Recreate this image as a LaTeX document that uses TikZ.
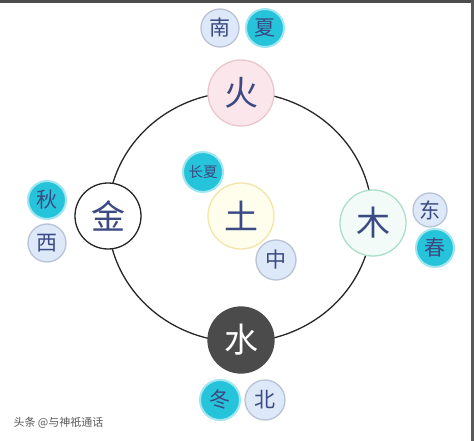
\documentclass[tikz,border=0pt]{standalone}
\usepackage{fontspec}
\newfontfamily\cjk{Noto Sans CJK SC}
\definecolor{ink}{HTML}{3B4A82}
\definecolor{cyanf}{HTML}{26C4DA}
\definecolor{cyang}{HTML}{9FE6F0}
\definecolor{bluef}{HTML}{DDE8F8}
\definecolor{blued}{HTML}{B9C3D6}
\definecolor{firef}{HTML}{FBE7EB}
\definecolor{fired}{HTML}{E9C7CD}
\definecolor{woodf}{HTML}{F2FBF7}
\definecolor{woodd}{HTML}{ABDFC9}
\definecolor{earthf}{HTML}{FFFDEB}
\definecolor{earthd}{HTML}{F2E6A6}
\definecolor{waterf}{HTML}{4B4B4B}
\tikzset{
  big/.style={circle, minimum size=66pt, inner sep=0pt, line width=1.3pt, font=\cjk\fontsize{34}{34}\selectfont, text=ink},
  lb/.style={circle, minimum size=38pt, inner sep=0pt, fill=bluef, draw=blued, line width=1.3pt, font=\cjk\fontsize{21}{21}\selectfont, text=ink},
  cy/.style={circle, minimum size=38pt, inner sep=0pt, fill=cyanf, draw=cyang, line width=2pt, font=\cjk\fontsize{21}{21}\selectfont, text=ink},
}
\begin{document}
\begin{tikzpicture}[x=1pt,y=-1pt]
\useasboundingbox (0,0) rectangle (474,441);
\fill[white] (0,0) rectangle (474,441);
\fill[black!70] (0,0) rectangle (474,3);
\fill[black!65] (471,0) rectangle (474,441);
% cycle
\draw[line width=1.3pt, black!85] (240,217) ellipse [x radius=132, y radius=125];
% main elements
\node[big, fill=firef, draw=fired] (fire) at (241,93) {火};
\node[big, fill=white, draw=black!85] (metal) at (108,216) {金};
\node[big, fill=woodf, draw=woodd] (wood) at (373,223) {木};
\node[big, fill=earthf, draw=earthd] (earth) at (241,216) {土};
\node[big, fill=waterf, draw=waterf, text=white] (water) at (241,340) {水};
% satellites
\node[lb] (south) at (220,28) {南};
\node[cy] (summer) at (265,28) {夏};
\node[cy] (autumn) at (47,200) {秋};
\node[lb] (west) at (47,243) {西};
\node[lb, minimum size=34pt] (east) at (430,210) {东};
\node[cy] (spring) at (435,248) {春};
\node[cy, minimum size=40pt, font=\cjk\fontsize{14.5}{14.5}\selectfont] (lsummer) at (203,172) {长夏};
\node[lb, minimum size=40pt] (center) at (276,260) {中};
\node[cy, minimum size=40pt] (winter) at (220,400) {冬};
\node[lb, minimum size=40pt] (north) at (265,400) {北};
% watermark
\node[anchor=west, text=black!65, font=\cjk\fontsize{11}{11}\selectfont] (wm) at (10,423) {头条 @与神祇通话};
\end{tikzpicture}
\end{document}
